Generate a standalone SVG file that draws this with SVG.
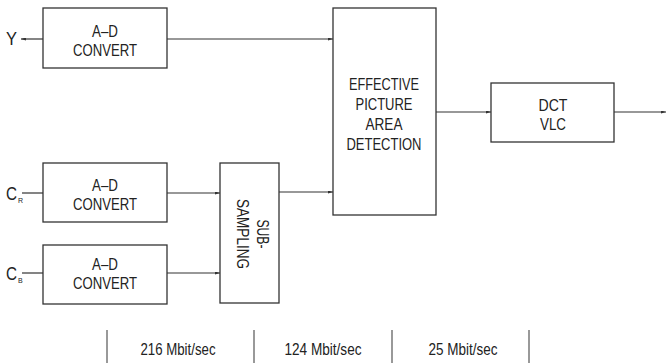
<svg xmlns="http://www.w3.org/2000/svg" width="666" height="363" viewBox="0 0 666 363">
<style>
.box{fill:#fff;stroke:#333;stroke-width:1.3}
.ln{stroke:#333;stroke-width:1.2;fill:none}
.t{font-family:"Liberation Sans",Arial,sans-serif;font-size:16.5px;fill:#222;text-anchor:middle}
.tl{font-family:"Liberation Sans",Arial,sans-serif;font-size:18px;fill:#222}
.sub{font-family:"Liberation Sans",Arial,sans-serif;font-size:7px;fill:#222}
.sep{stroke:#555;stroke-width:1.2}
</style>
<defs>
<marker id="ah" markerWidth="5" markerHeight="3" refX="5" refY="1.5" orient="auto" markerUnits="userSpaceOnUse">
<path d="M0,0 L5,1.5 L0,3 Z" fill="#333"/>
</marker>
</defs>
<rect width="666" height="363" fill="#fff"/>
<g id="connectors">
<line class="ln" x1="43" y1="39" x2="21" y2="39" marker-end="url(#ah)"/>
<line class="ln" x1="167" y1="39" x2="333" y2="39" marker-end="url(#ah)"/>
<line class="ln" x1="22" y1="193" x2="43" y2="193"/>
<line class="ln" x1="22" y1="273" x2="43" y2="273"/>
<line class="ln" x1="167" y1="193" x2="220" y2="193" marker-end="url(#ah)"/>
<line class="ln" x1="167" y1="273" x2="220" y2="273" marker-end="url(#ah)"/>
<line class="ln" x1="279" y1="192" x2="333" y2="192" marker-end="url(#ah)"/>
<line class="ln" x1="436" y1="112" x2="491" y2="112" marker-end="url(#ah)"/>
<line class="ln" x1="614" y1="112" x2="666" y2="112" marker-end="url(#ah)"/>
</g>
<g id="inputY"><text class="tl" x="6" y="45" textLength="11" lengthAdjust="spacingAndGlyphs">Y</text></g>
<g id="inputCR"><text class="tl" x="6" y="200" textLength="11" lengthAdjust="spacingAndGlyphs">C</text><text class="sub" x="18" y="203">R</text></g>
<g id="inputCB"><text class="tl" x="6" y="280" textLength="11" lengthAdjust="spacingAndGlyphs">C</text><text class="sub" x="18" y="283">B</text></g>
<g id="adY">
<rect class="box" x="43" y="8" width="124" height="60"/>
<text class="t" x="105" y="37" textLength="26" lengthAdjust="spacingAndGlyphs">A–D</text>
<text class="t" x="105" y="56" textLength="64" lengthAdjust="spacingAndGlyphs">CONVERT</text>
</g>
<g id="adCR">
<rect class="box" x="43" y="163" width="124" height="59"/>
<text class="t" x="105" y="191" textLength="26" lengthAdjust="spacingAndGlyphs">A–D</text>
<text class="t" x="105" y="210" textLength="64" lengthAdjust="spacingAndGlyphs">CONVERT</text>
</g>
<g id="adCB">
<rect class="box" x="43" y="245" width="124" height="59"/>
<text class="t" x="105" y="270" textLength="26" lengthAdjust="spacingAndGlyphs">A–D</text>
<text class="t" x="105" y="289" textLength="64" lengthAdjust="spacingAndGlyphs">CONVERT</text>
</g>
<g id="subsampling">
<rect class="box" x="220" y="163" width="59" height="140"/>
<g transform="translate(250,234) rotate(90)">
<text class="t" x="0" y="-7" textLength="29" lengthAdjust="spacingAndGlyphs">SUB-</text>
<text class="t" x="0" y="13" textLength="70" lengthAdjust="spacingAndGlyphs">SAMPLING</text>
</g>
</g>
<g id="effective">
<rect class="box" x="333" y="8" width="103" height="207"/>
<text class="t" x="384" y="90" textLength="70" lengthAdjust="spacingAndGlyphs">EFFECTIVE</text>
<text class="t" x="384" y="110" textLength="57" lengthAdjust="spacingAndGlyphs">PICTURE</text>
<text class="t" x="384" y="130" textLength="37" lengthAdjust="spacingAndGlyphs">AREA</text>
<text class="t" x="384" y="150" textLength="75" lengthAdjust="spacingAndGlyphs">DETECTION</text>
</g>
<g id="dctvlc">
<rect class="box" x="491" y="83" width="123" height="59"/>
<text class="t" x="553" y="111" textLength="29" lengthAdjust="spacingAndGlyphs">DCT</text>
<text class="t" x="553" y="130" textLength="26" lengthAdjust="spacingAndGlyphs">VLC</text>
</g>
<g id="rates">
<line class="sep" x1="107" y1="330" x2="107" y2="363"/>
<line class="sep" x1="254" y1="330" x2="254" y2="363"/>
<line class="sep" x1="392" y1="330" x2="392" y2="363"/>
<line class="sep" x1="529" y1="330" x2="529" y2="363"/>
<text class="t" x="178" y="355" textLength="75" lengthAdjust="spacingAndGlyphs">216 Mbit/sec</text>
<text class="t" x="323" y="355" textLength="77" lengthAdjust="spacingAndGlyphs">124 Mbit/sec</text>
<text class="t" x="463" y="355" textLength="69" lengthAdjust="spacingAndGlyphs">25 Mbit/sec</text>
</g>
</svg>
